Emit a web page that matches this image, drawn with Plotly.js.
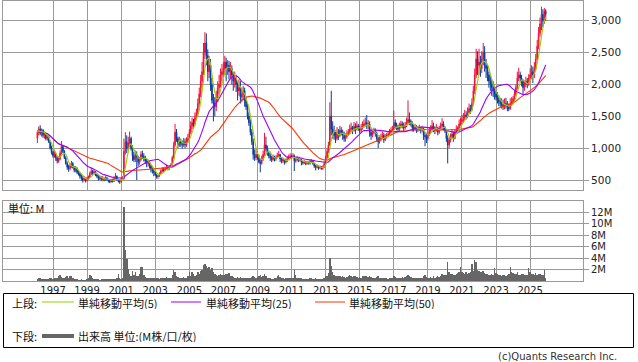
<!DOCTYPE html>
<html>
<head>
<meta charset="utf-8">
<script src="https://cdn.plot.ly/plotly-3.0.1.min.js"></script>
<style>html,body{margin:0;padding:0;background:#fff;}#chart{width:638px;height:362px;}</style>
</head>
<body>
<div id="chart"></div>
<script>
// Monthly data, Feb 1996 .. Dec 2025 (first row = 1996 Feb-Dec, then one row per year)
const startYear = 1996, startMonth = 2;
const openP = [
  1150,1250,1300,1230,1280,1200,1230,1150,1180,1100,1000,
  930,880,900,850,800,830,920,1030,950,850,760,700,
  680,720,760,700,650,680,620,600,560,530,500,520,
  490,520,540,600,640,610,630,580,560,520,540,510,
  520,500,530,510,490,470,500,480,520,560,500,480,
  470,500,520,950,1100,1000,1080,1150,1000,880,820,900,
  860,780,820,900,870,850,800,760,780,720,680,640,
  620,580,550,560,600,640,660,650,680,700,680,700,
  730,850,1050,1250,1150,1050,1100,1080,1050,1100,1050,1100,
  1150,1250,1350,1400,1380,1480,1550,1700,1850,2050,2200,2500,
  2650,2450,2200,2300,2000,1750,1700,1650,1800,1950,2000,2150,
  2200,2250,2350,2250,2300,2200,2250,2150,2050,2100,2000,1900,
  1950,1800,1850,1900,1750,1650,1500,1400,1250,1100,900,850,
  900,850,780,760,820,900,1050,1000,920,880,850,820,
  860,830,850,880,900,830,800,820,780,800,830,850,
  870,860,880,800,820,830,810,820,780,770,780,760,
  770,760,790,800,760,720,700,710,690,700,680,700,
  760,850,950,1050,1500,1300,1250,1200,1150,1250,1200,1280,
  1250,1200,1150,1180,1220,1250,1300,1320,1280,1340,1300,1350,
  1320,1280,1320,1350,1380,1400,1360,1380,1250,1200,1250,1280,
  1240,1150,1100,1150,1180,1200,1130,1180,1200,1220,1250,1280,
  1300,1400,1350,1320,1300,1350,1380,1360,1320,1350,1400,1450,
  1420,1380,1320,1300,1330,1280,1300,1320,1280,1300,1200,1180,
  1150,1220,1280,1300,1350,1300,1280,1320,1250,1300,1350,1380,
  1330,1280,1150,1050,1120,1180,1220,1150,1250,1300,1280,1380,
  1420,1450,1480,1520,1500,1560,1620,1600,1700,1900,2150,2400,
  2300,2350,2250,2400,2500,2300,2250,2150,2050,2000,1950,1900,
  1850,1800,1760,1720,1700,1680,1650,1700,1680,1640,1620,1700,
  1720,1780,1850,1950,2100,2150,2100,2050,1950,2000,2050,2000,
  2100,2150,2200,2150,2250,2400,2600,2800,2950,3100,3000,3150
];
const highP = [
  1280,1340,1360,1310,1300,1260,1250,1220,1200,1120,1040,
  960,960,930,880,870,960,1110,1050,970,870,790,740,
  760,800,780,720,720,700,660,620,590,560,560,540,
  550,570,630,690,660,670,640,600,580,570,560,560,
  540,560,550,520,510,520,520,560,610,570,520,500,
  540,560,1150,1250,1200,1180,1260,1180,1050,940,960,950,
  880,860,950,960,920,880,830,820,800,740,700,680,
  640,600,580,620,670,700,700,710,740,720,730,760,
  880,1100,1380,1300,1180,1180,1150,1120,1160,1150,1170,1220,
  1300,1420,1480,1460,1560,1620,1780,1950,2150,2350,2650,2820,
  2800,2550,2450,2400,2100,1850,1800,1900,2050,2150,2250,2320,
  2350,2450,2420,2380,2370,2350,2300,2200,2200,2150,2050,2080,
  2050,1950,1980,1950,1800,1700,1560,1450,1300,1150,980,1000,
  950,900,830,880,960,1240,1180,1040,960,920,880,900,
  880,890,930,960,910,860,850,830,840,870,900,920,
  900,920,900,850,870,850,850,830,800,810,800,800,
  790,820,830,810,770,740,740,730,730,720,730,790,
  880,990,1100,1720,1900,1420,1350,1260,1330,1300,1350,1330,
  1290,1260,1230,1280,1300,1370,1400,1350,1410,1390,1420,1380,
  1350,1380,1420,1450,1480,1520,1440,1420,1300,1300,1320,1310,
  1260,1180,1200,1230,1260,1240,1220,1240,1270,1300,1330,1350,
  1590,1450,1400,1370,1400,1430,1420,1400,1410,1480,1750,1560,
  1450,1420,1370,1380,1360,1350,1370,1340,1350,1320,1250,1220,
  1260,1320,1360,1440,1400,1340,1380,1330,1350,1400,1470,1420,
  1340,1300,1200,1170,1230,1300,1260,1300,1360,1340,1450,1480,
  1520,1550,1600,1580,1640,1700,1680,1780,1980,2250,2560,2520,
  2560,2450,2520,2650,2600,2400,2300,2200,2130,2080,2050,1980,
  1920,1880,1830,1790,1780,1760,1780,1790,1740,1700,1780,1800,
  1820,1900,2000,2200,2260,2200,2150,2080,2060,2120,2100,2160,
  2250,2300,2280,2350,2480,2700,2900,3050,3220,3180,3200,3180
];
const lowP = [
  1080,1200,1200,1180,1160,1150,1120,1120,1080,980,900,
  850,850,800,760,770,810,900,920,830,740,660,630,
  650,690,680,620,620,590,570,520,490,460,480,460,
  480,500,530,580,580,590,560,530,490,500,480,490,
  480,490,490,460,450,460,460,470,510,490,460,440,
  460,480,510,900,920,960,1020,960,800,780,780,500,
  720,740,800,830,790,750,700,710,680,620,600,560,
  560,520,520,550,590,620,620,640,660,650,660,690,
  720,830,1020,1100,1000,1020,1020,990,1020,1000,1020,1080,
  1130,1220,1300,1320,1350,1440,1500,1640,1800,1950,2150,2400,
  2300,2050,2100,1900,1700,1420,1500,1580,1720,1850,1950,2050,
  2100,2150,2050,2150,2080,2100,2000,1900,1950,1880,1750,1820,
  1700,1720,1750,1650,1600,1450,1350,1200,1050,820,800,810,
  820,760,620,740,800,880,950,880,840,800,780,800,
  790,800,840,860,780,760,770,740,760,780,810,830,
  830,840,640,770,790,780,790,730,740,750,730,740,
  740,740,770,740,690,650,680,660,670,660,660,690,
  750,830,920,1030,1200,1150,1130,1080,1120,1130,1170,1200,
  1130,1100,1100,1150,1190,1220,1260,1220,1260,1220,1280,1270,
  1230,1250,1290,1320,1340,1300,1300,1180,1130,1170,1220,1180,
  1100,1000,1070,1110,1140,1080,1110,1150,1170,1200,1200,1250,
  1280,1320,1280,1250,1270,1310,1310,1260,1290,1330,1380,1360,
  1340,1260,1260,1270,1240,1250,1270,1230,1250,1130,1030,1080,
  1120,1190,1240,1280,1250,1220,1260,1200,1220,1280,1320,1280,
  1240,1100,760,1000,1090,1150,1100,1140,1230,1230,1260,1350,
  1380,1400,1440,1450,1470,1540,1540,1580,1680,1850,2100,2150,
  2150,2120,2180,2300,2200,2100,2050,1950,1900,1820,1800,1760,
  1750,1700,1660,1650,1620,1600,1610,1620,1580,1580,1600,1660,
  1690,1740,1820,1920,2050,2040,1970,1850,1900,1960,1940,1980,
  2050,2080,2020,2100,2220,2380,2550,2750,2850,2900,2950,3000
];
const closeP = [
  1250,1300,1230,1280,1200,1230,1150,1180,1100,1000,930,
  880,900,850,800,830,920,1030,950,850,760,700,680,
  720,760,700,650,680,620,600,560,530,500,520,490,
  520,540,600,640,610,630,580,560,520,540,510,520,
  500,530,510,490,470,500,480,520,560,500,480,470,
  500,520,950,1100,1000,1080,1150,1000,880,820,900,860,
  780,820,900,870,850,800,760,780,720,680,640,620,
  580,550,560,600,640,660,650,680,700,680,700,730,
  850,1050,1250,1150,1050,1100,1080,1050,1100,1050,1100,1150,
  1250,1350,1400,1380,1480,1550,1700,1850,2050,2200,2500,2650,
  2450,2200,2300,2000,1750,1700,1650,1800,1950,2000,2150,2200,
  2250,2350,2250,2300,2200,2250,2150,2050,2100,2000,1900,1950,
  1800,1850,1900,1750,1650,1500,1400,1250,1100,900,850,900,
  850,780,760,820,900,1050,1000,920,880,850,820,860,
  830,850,880,900,830,800,820,780,800,830,850,870,
  860,880,800,820,830,810,820,780,770,780,760,770,
  760,790,800,760,720,700,710,690,700,680,700,760,
  850,950,1050,1500,1300,1250,1200,1150,1250,1200,1280,1250,
  1200,1150,1180,1220,1250,1300,1320,1280,1340,1300,1350,1320,
  1280,1320,1350,1380,1400,1360,1380,1250,1200,1250,1280,1240,
  1150,1100,1150,1180,1200,1130,1180,1200,1220,1250,1280,1300,
  1400,1350,1320,1300,1350,1380,1360,1320,1350,1400,1450,1420,
  1380,1320,1300,1330,1280,1300,1320,1280,1300,1200,1180,1150,
  1220,1280,1300,1350,1300,1280,1320,1250,1300,1350,1380,1330,
  1280,1150,1050,1120,1180,1220,1150,1250,1300,1280,1380,1420,
  1450,1480,1520,1500,1560,1620,1600,1700,1900,2150,2400,2300,
  2350,2250,2400,2500,2300,2250,2150,2050,2000,1950,1900,1850,
  1800,1760,1720,1700,1680,1650,1700,1680,1640,1620,1700,1720,
  1780,1850,1950,2100,2150,2100,2050,1950,2000,2050,2000,2100,
  2150,2200,2150,2250,2400,2600,2800,2950,3100,3000,3150,3100
];
// Volume, millions
const volumeM = [
  0.4,0.5,0.5,0.4,0.3,0.4,0.3,0.3,0.4,0.5,0.5,
  0.4,0.5,0.6,0.5,0.9,1.0,0.7,0.6,0.5,0.7,0.8,0.6,
  0.9,0.8,0.5,0.4,0.3,0.3,0.2,0.2,0.3,0.2,0.2,0.2,
  0.3,0.6,1.0,0.9,0.5,0.4,0.3,0.3,0.3,0.2,0.3,0.3,
  0.3,0.3,0.4,0.3,0.3,0.3,0.4,0.3,0.4,0.5,1.3,0.6,
  0.3,0.6,13.0,5.4,3.8,2.1,1.2,0.9,1.8,1.0,1.6,0.8,
  0.8,1.2,2.5,2.4,1.0,0.7,0.6,0.6,0.5,0.5,0.6,0.5,
  0.5,0.6,0.5,0.4,0.5,0.6,0.5,0.6,0.7,0.5,0.6,0.6,
  1.0,1.9,1.6,0.9,0.7,0.6,0.5,0.6,0.7,0.6,0.5,0.8,
  1.5,0.9,1.5,1.2,0.8,1.0,1.6,1.3,1.8,2.0,2.8,2.9,
  2.6,2.2,2.5,2.0,2.3,1.5,1.2,1.0,0.9,1.1,1.3,1.0,
  1.0,1.1,1.3,1.2,1.4,0.9,0.8,0.7,0.6,0.6,0.7,0.6,
  0.7,0.6,0.6,0.5,0.5,0.5,0.6,0.5,0.7,0.9,0.7,0.6,
  0.7,0.8,1.0,0.7,0.8,1.2,0.9,0.6,0.5,0.5,0.4,0.4,
  0.5,0.5,0.8,1.1,0.7,0.5,0.5,0.4,0.5,0.5,0.5,0.6,
  0.6,0.6,1.9,1.0,0.6,0.5,0.5,0.5,0.4,0.4,0.4,0.4,
  0.4,0.5,0.5,0.4,0.4,0.5,0.4,0.3,0.3,0.4,0.3,0.5,
  0.8,0.9,1.4,4.1,2.7,1.5,1.0,0.8,0.9,0.8,0.9,0.7,
  0.8,0.7,0.6,0.7,0.9,1.0,0.8,0.7,0.8,0.9,0.7,0.6,
  0.7,0.6,0.8,0.9,0.8,0.9,0.7,0.8,0.7,0.6,0.5,0.6,
  0.7,0.8,0.6,0.5,0.5,0.6,0.5,0.5,0.4,0.5,0.6,0.5,
  0.9,0.7,0.6,0.5,0.5,0.6,0.7,0.6,0.7,0.9,1.0,0.9,
  0.7,0.6,0.5,0.6,0.5,0.5,0.6,0.5,0.6,0.8,1.0,0.7,
  0.6,0.5,0.7,0.6,0.8,0.6,0.7,0.9,0.7,0.8,1.2,1.0,
  1.0,1.1,3.4,1.5,1.2,1.3,1.0,1.1,1.2,1.4,1.6,2.5,
  1.5,1.4,1.3,1.5,1.2,1.4,1.5,3.0,1.8,3.7,3.4,2.0,
  1.8,1.5,1.6,1.8,1.4,1.3,1.2,1.1,1.0,1.2,1.1,2.2,
  1.4,1.2,1.1,1.0,0.9,1.1,1.0,0.9,1.0,1.2,2.5,1.6,
  1.4,1.2,1.3,1.5,1.1,1.0,1.2,1.3,1.0,1.1,1.0,2.2,
  1.6,1.2,1.3,1.0,1.4,1.1,1.2,1.3,1.0,1.1,2.0,0.5
];
const tickYears = ['1997','1999','2001','2003','2005','2007','2009','2011','2013','2015','2017','2019','2021','2023','2025'];
const priceTicks = [500,1000,1500,2000,2500,3000];
const volTicks = [2,4,6,8,10,12];
const volTickText = ['2M','4M','6M','8M','10M','12M'];
const maPeriods = [5,25,50];
const maNames = ['単純移動平均(5)','単純移動平均(25)','単純移動平均(50)'];

function pad(n){return (n<10?'0':'')+n;}
const months = closeP.map((_, i) => {
  const t = (startYear*12 + startMonth - 1) + i;
  return Math.floor(t/12) + '-' + pad(t%12 + 1) + '-01';
});
function sma(arr, n){
  return arr.map((_, i) => {
    const s = Math.max(0, i-n+1);
    let sum = 0; for (let k=s;k<=i;k++) sum += arr[k];
    return sum/(i-s+1);
  });
}
const maColors = ['#99cc00','#9900ff','#ff3300'];

const UP = '#f0113a', DOWN = '#083b9c';
const traces = [];
traces.push({
  type:'candlestick', x:months, open:openP, high:highP, low:lowP, close:closeP,
  xaxis:'x', yaxis:'y', whiskerwidth:0,
  increasing:{line:{color:UP,width:1}, fillcolor:UP},
  decreasing:{line:{color:DOWN,width:1}, fillcolor:DOWN},
  hoverinfo:'skip'
});
[2,1,0].forEach(j => {
  traces.push({type:'scatter', mode:'lines', x:months, y:sma(closeP, maPeriods[j]),
    xaxis:'x', yaxis:'y', line:{color:maColors[j], width:1.1}, hoverinfo:'skip', name:maNames[j]});
});
traces.push({type:'bar', x:months, y:volumeM, xaxis:'x2', yaxis:'y2',
  marker:{color:'#666666', line:{width:0}}, width:31*86400000, hoverinfo:'skip'});

const W=638, H=362;
const px = v => v/W, py = v => 1 - v/H;
const GRID = '#9a9a9a';
const tickDates = tickYears.map(y => y + '-01-01');
const xBase = {
  type:'date', range:['1994-01-25','2028-02-08'], tickvals:tickDates, ticktext:tickYears,
  showgrid:true, gridcolor:GRID, gridwidth:1, showline:true, linecolor:GRID, linewidth:1, mirror:true,
  ticks:'', zeroline:false, fixedrange:true,
  tickfont:{family:'DejaVu Sans', size:10, color:'#222'}
};
const layout = {
  width:W, height:H, margin:{l:0,r:0,t:0,b:0}, paper_bgcolor:'#fff', plot_bgcolor:'#fff',
  showlegend:false, bargap:0,
  xaxis: Object.assign({}, xBase, {domain:[px(3), px(583)], anchor:'y', showticklabels:false, rangeslider:{visible:false}}),
  xaxis2: Object.assign({}, xBase, {domain:[px(3), px(583)], anchor:'y2', showticklabels:true}),
  yaxis: {domain:[py(190), py(0.5)], range:[343, 3317], side:'right', anchor:'x',
    tickvals:priceTicks, tickformat:',', showgrid:true, gridcolor:GRID, showline:true, linecolor:GRID, mirror:true,
    ticks:'outside', ticklen:5, tickcolor:GRID, zeroline:false,
    tickfont:{family:'DejaVu Sans', size:10.5, color:'#222'}},
  yaxis2: {domain:[py(281), py(201)], range:[0, 14], side:'right', anchor:'x2',
    tickvals:volTicks, ticktext:volTickText, showgrid:true, gridcolor:GRID, showline:true, linecolor:GRID, mirror:true,
    ticks:'outside', ticklen:5, tickcolor:GRID, zeroline:false,
    tickfont:{family:'DejaVu Sans', size:10, color:'#222'}},
  shapes: [
    {type:'rect', xref:'paper', yref:'paper', x0:px(3.5), x1:px(633.5), y0:py(347.5), y1:py(293.5), line:{color:'#000', width:1}},
    {type:'line', xref:'paper', yref:'paper', x0:px(42), x1:px(74), y0:py(302), y1:py(302), line:{color:maColors[0], width:1}},
    {type:'line', xref:'paper', yref:'paper', x0:px(171), x1:px(201), y0:py(302), y1:py(302), line:{color:maColors[1], width:1}},
    {type:'line', xref:'paper', yref:'paper', x0:px(315), x1:px(345), y0:py(302), y1:py(302), line:{color:maColors[2], width:1}},
    {type:'line', xref:'paper', yref:'paper', x0:px(42), x1:px(74), y0:py(336), y1:py(336), line:{color:'#666666', width:4}}
  ],
  annotations: []
};
const JP = {family:'Noto Sans CJK JP', size:11, color:'#111'};
function ann(text, x, y, xanchor, font){
  layout.annotations.push({text:text, xref:'paper', yref:'paper', x:px(x), y:py(y), xanchor:xanchor||'left', yanchor:'middle', showarrow:false, font:font||JP, borderpad:0, height:12});
}
ann('上段:', 11, 302.5);
ann(maNames[0], 77, 302.5);
ann(maNames[1], 205, 302.5);
ann(maNames[2], 348, 302.5);
ann('下段:', 11, 336);
ann('出来高 単位:(M株/口/枚)', 77, 336);
ann('単位: M', 7, 208, 'left', {family:'Noto Sans CJK JP', size:11, color:'#111'});
ann('(c)Quants Research Inc.', 618, 356, 'right', {family:'DejaVu Sans', size:10, color:'#333'});

Plotly.newPlot('chart', traces, layout, {staticPlot:true, displayModeBar:false});
</script>
</body>
</html>
